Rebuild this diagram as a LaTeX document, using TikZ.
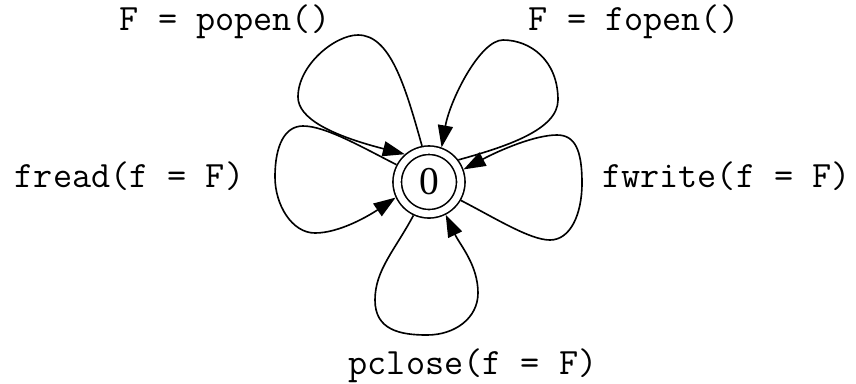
\documentclass[tikz,border=0pt]{standalone}
\usepackage{fontspec}
\setmainfont{Liberation Serif}
\usetikzlibrary{arrows.meta}
\begin{document}
\begin{tikzpicture}[x=0.431pt, y=-0.431pt,
  lbl/.style={font=\ttfamily\fontsize{16pt}{18pt}\selectfont, inner sep=0pt, anchor=base},
  statenode/.style={circle, draw, line width=0.7pt, double, double distance=2.96pt,
    minimum size=27.37pt, inner sep=0pt, outer sep=2.18pt,
    font=\fontsize{17pt}{19pt}\selectfont},
  loopedge/.style={line width=0.7pt, -{Triangle[length=9.5pt,width=6.5pt]}}]
\useasboundingbox (0,0) rectangle (856,383);
\node[statenode] (n) at (429,182) {0};
% labels
\node[lbl] (lpopen) at (225,30) {F = popen()};
\node[lbl] (lfopen) at (634,30) {F = fopen()};
\node[lbl] (lfread) at (129.5,187) {fread(f = F)};
\node[lbl] (lfwrite) at (726.5,187) {fwrite(f = F)};
\node[lbl] (lpclose) at (473,374) {pclose(f = F)};
% loops
\draw[loopedge] (n.101) .. controls (405,85) and (390,35) .. (358,35)
  .. controls (335,35) and (298,65) .. (298,97)
  .. controls (298,118) and (330,135) .. (n.131);
\draw[loopedge] (n.37) .. controls (505,147) and (558,130) .. (558,100)
  .. controls (558,60) and (530,40) .. (503,40)
  .. controls (480,40) and (450,100) .. (n.70);
\draw[loopedge] (n.-30) .. controls (495,218) and (530,240) .. (550,240)
  .. controls (570,240) and (582,215) .. (582,183)
  .. controls (582,150) and (575,135) .. (557,135)
  .. controls (535,135) and (500,150) .. (n.20);
\draw[loopedge] (n.152) .. controls (360,146) and (325,126) .. (303,126)
  .. controls (285,126) and (275,145) .. (275,177)
  .. controls (275,205) and (292,233) .. (315,233)
  .. controls (340,233) and (370,215) .. (n.205);
\draw[loopedge] (n.245) .. controls (395,250) and (375,270) .. (375,300)
  .. controls (375,330) and (400,335) .. (427,335)
  .. controls (455,335) and (478,318) .. (478,293)
  .. controls (478,265) and (460,245) .. (n.297);
\end{tikzpicture}
\end{document}
